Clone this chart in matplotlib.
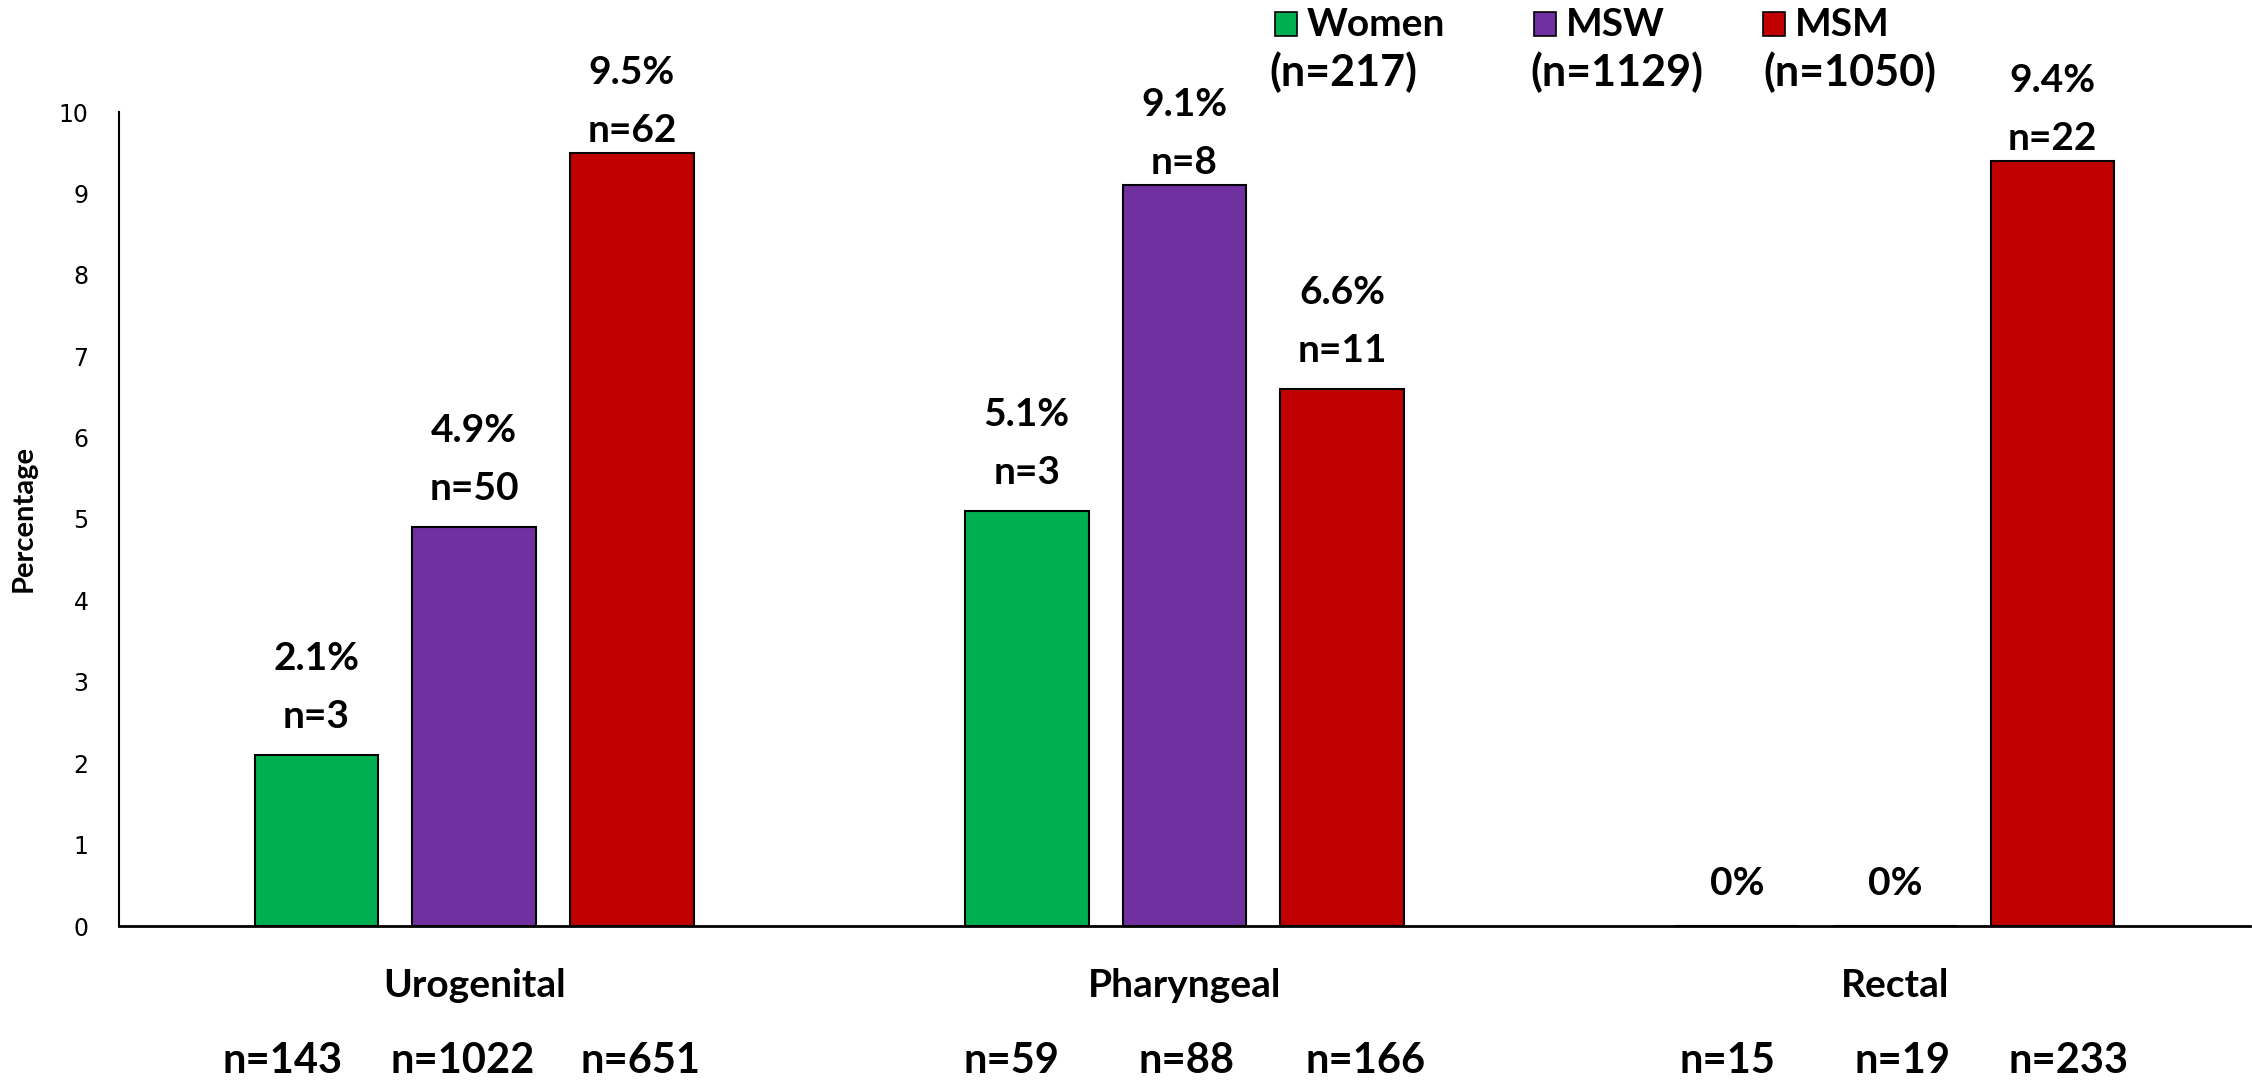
import numpy as np
import matplotlib

matplotlib.use("Agg")
import matplotlib.pyplot as plt
from matplotlib.patches import Rectangle
from matplotlib.transforms import blended_transform_factory

# positivity by anatomic site and group
sites = ["Urogenital", "Pharyngeal", "Rectal"]
groups = ["Women", "MSW", "MSM"]
group_n = [217, 1129, 1050]
colors = ["#00B050", "#7030A0", "#C00000"]

pct_women = [2.1, 5.1, 0.0]
pct_msw = [4.9, 9.1, 0.0]
pct_msm = [9.5, 6.6, 9.4]

pos_women = [3, 3, 0]
pos_msw = [50, 8, 0]
pos_msm = [62, 11, 22]

tested_women = [143, 59, 15]
tested_msw = [1022, 88, 19]
tested_msm = [651, 166, 233]

pct = [pct_women, pct_msw, pct_msm]
pos = [pos_women, pos_msw, pos_msm]
tested = [tested_women, tested_msw, tested_msm]

# horizontal nudges (pixels) for the typed sample-size row
n_nudge = [[-34, -15, -10], [-12, 2, 8], [9, 23, 16]]

W, H = 2252, 1081
fig = plt.figure(figsize=(W / 100, H / 100), dpi=100)
ax = fig.add_axes([119 / W, 155 / H, (2250 - 119) / W, (926 - 112) / H])

x = np.arange(len(sites))
width = 0.174
step = 0.222
FONT = "Lato"

trans = blended_transform_factory(ax.transData, ax.transAxes)
for i, g in enumerate(groups):
    xs = x + (i - 1) * step
    ax.bar(xs, pct[i], width, color=colors[i], edgecolor="black", linewidth=1.5,
           zorder=2)
    for j, (xi, v, k) in enumerate(zip(xs, pct[i], pos[i])):
        kw = dict(textcoords="offset pixels", ha="center", va="baseline",
                  fontsize=28, fontweight="bold", family=FONT)
        if v == 0:
            ax.annotate("0%", (xi, v), xytext=(0, 31), **kw)
        else:
            gap = 27 if v < 8 else 11
            ax.annotate(f"n={k}", (xi, v), xytext=(0, gap), **kw)
            ax.annotate(f"{v:.1f}%", (xi, v), xytext=(0, gap + 58), **kw)
        # sample size tested, under the category name
        ax.annotate(f"n={tested[i][j]}", (xi, -0.180), xycoords=trans,
                    xytext=(n_nudge[i][j], 0), textcoords="offset pixels",
                    ha="center", va="baseline", fontsize=30, fontweight="bold",
                    family=FONT)

for xi, s in zip(x, sites):
    ax.text(xi, -0.0872, s, transform=trans, ha="center", va="baseline",
            fontsize=28, fontweight="bold", family=FONT)

ax.set_xlim(-0.5, 2.5)
ax.set_ylim(0, 10)
ax.set_yticks(range(0, 11))
ax.set_xticks([])
ax.tick_params(axis="y", length=0, pad=22, labelsize=17)
ax.set_ylabel("Percentage", fontsize=21, fontweight="bold", family=FONT,
              labelpad=16)
for s in ("top", "right"):
    ax.spines[s].set_visible(False)
ax.spines["left"].set_linewidth(1.5)
ax.spines["bottom"].set_linewidth(2)

# legend drawn by hand: square + name, group size underneath
sq_x = [1275, 1534, 1763]
n_cx = [1343, 1617, 1850]
for g, n, c, sx, cx in zip(groups, group_n, colors, sq_x, n_cx):
    fig.patches.append(Rectangle((sx / W, 1 - 36 / H), 22 / W, 24 / H,
                                 transform=fig.transFigure, facecolor=c,
                                 edgecolor="black", linewidth=1.2))
    fig.text((sx + 32) / W, 1 - 24 / H, g, ha="left", va="center",
             fontsize=28, fontweight="bold", family=FONT)
    fig.text(cx / W, 1 - 72 / H, f"(n={n})", ha="center", va="center",
             fontsize=31, fontweight="bold", family=FONT)

fig.savefig("out.png", dpi=100)
